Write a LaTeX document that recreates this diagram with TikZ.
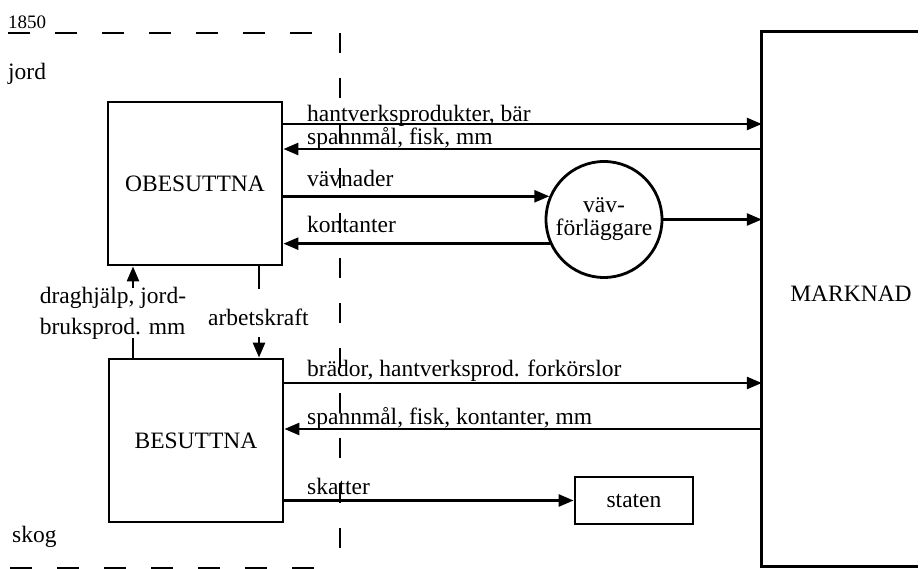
\documentclass[tikz,border=0pt]{standalone}
\usepackage{fontspec}
\setmainfont{Liberation Serif}
\usetikzlibrary{arrows.meta}
\begin{document}
\begin{tikzpicture}[x=1pt,y=-1pt,
  lw/.style={line width=2.6pt},
  arr/.style={lw,-{Triangle[length=15pt,width=12pt]}},
  txt/.style={inner sep=0pt,font=\fontsize{23.5}{25}\selectfont},
  box/.style={draw,line width=2.8pt,inner sep=0pt,font=\fontsize{23.5}{25}\selectfont},
  lbl/.style={txt,anchor=base west},
  dashline/.style={line width=2.6pt,dash pattern=on 22pt off 25pt},
]
\useasboundingbox (0,0) rectangle (922,569);

% dashed frame lines
\draw[dashline] (8,33) -- (314,33);
\draw[line width=2.6pt,dash pattern=on 20pt off 25pt] (340,33) -- (340,569);
\draw[dashline,line width=3pt] (10,568) -- (314,568);

\node[lbl,font=\fontsize{19}{21}\selectfont] (yr) at (8,29) {1850};
\node[lbl] (jord) at (8,80) {jord};
\node[lbl] (skog) at (12,542) {skog};

% boxes
\node[box,minimum width=174pt,minimum height=163pt] (ob) at (195,183.5) {\raisebox{-4pt}{OBESUTTNA}};
\node[box,minimum width=174pt,minimum height=163pt] (bes) at (196,440.5) {\raisebox{-4.5pt}{BESUTTNA}};
\node[box,circle,minimum size=116pt,align=center,font=\fontsize{23.5}{23}\selectfont] (vf) at (604,219.5) {väv-\\förläggare};
\node[box,minimum width=118pt,minimum height=47pt] (st) at (634,500.5) {staten};
\node[txt,minimum width=178pt,minimum height=534pt] (mk) at (851,299) {\raisebox{11pt}{MARKNAD}};
\draw[line width=2.8pt] ([xshift=156pt]mk.north west) -- (mk.north west) -- (mk.south west) -- ([xshift=156pt]mk.south west);

% levels
\coordinate (y1) at (0,124);
\coordinate (y2) at (0,149);
\coordinate (y3) at (0,383);
\coordinate (y4) at (0,429);

% upper flows
\draw[arr] (ob.east |- y1) -- (mk.west |- y1);
\node[lbl] (l1) at (307,122) {hantverksprodukter, bär};
\draw[arr] (mk.west |- y2) -- (ob.east |- y2);
\node[lbl] (l2) at (307,145) {spannmål, fisk, mm};
\draw[arr] (ob.east |- vf.157) -- (vf.157);
\node[lbl] (l3) at (307,187) {vävnader};
\draw[arr] (vf.204) -- (ob.east |- vf.204);
\node[lbl] (l4) at (307,233) {kontanter};
\draw[arr] (vf.east) -- (mk.west |- vf.east);

% between the two groups
\node[txt,align=left,font=\fontsize{23.5}{31}\selectfont] (dr) at (113,313) {draghjälp, jord-\\bruksprod. mm};
\coordinate (d1) at (133,288);
\coordinate (d2) at (133,338);
\draw[arr] (d1) -- (ob.south -| d1);
\draw[lw] (bes.north -| d2) -- (d2);
\node[lbl] (ak) at (208,326) {arbetskraft};
\coordinate (a1) at (259,289);
\coordinate (a2) at (259,337);
\draw[lw] (ob.south -| a1) -- (a1);
\draw[arr] (a2) -- (bes.north -| a2);

% lower flows
\draw[arr] (bes.east |- y3) -- (mk.west |- y3);
\node[lbl] (l5) at (307,377) {brädor, hantverksprod. forkörslor};
\draw[arr] (mk.west |- y4) -- (bes.east |- y4);
\node[lbl] (l6) at (307,425) {spannmål, fisk, kontanter, mm};
\draw[arr] (bes.east |- st.west) -- (st.west);
\node[lbl] (l7) at (307,495) {skatter};
\end{tikzpicture}
\end{document}
